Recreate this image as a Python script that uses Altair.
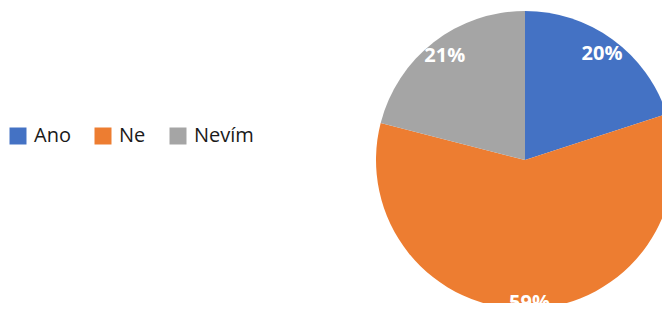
import altair as alt
import pandas as pd

categories = ["Ano", "Ne", "Nevím"]
values = [20, 59, 21]
labels = ["20%", "59%", "21%"]
colors = ["#4472C4", "#ED7D31", "#A5A5A5"]

df = pd.DataFrame({
    "kategorie": categories,
    "hodnota": values,
    "popisek": labels,
    "poradi": list(range(len(categories))),
})

cx, cy = 517, 152

base = alt.Chart(df).encode(
    theta=alt.Theta("hodnota:Q", stack=True),
    order=alt.Order("poradi:Q"),
    color=alt.Color(
        "kategorie:N",
        scale=alt.Scale(domain=categories, range=colors),
        sort=categories,
        legend=alt.Legend(
            title=None,
            orient="none",
            direction="horizontal",
            legendX=0,
            legendY=118,
            symbolType="square",
            symbolSize=289,
            symbolStrokeWidth=0,
            labelFont="Open Sans",
            labelFontSize=20,
            labelColor="#1a1a1a",
            labelOffset=6,
            columnPadding=22,
        ),
    ),
    x=alt.value(cx),
    y=alt.value(cy),
)

pie = base.mark_arc(outerRadius=149)

text = base.mark_text(
    font="Open Sans",
    fontSize=20,
    fontWeight="bold",
    baseline="middle",
    align="center",
    radius=131,
    radiusOffset={"expr": "datum.kategorie == 'Ne' ? 12 : 0"},
).encode(
    text="popisek:N",
    color=alt.value("white"),
)

chart = (pie + text).properties(
    width=654,
    height=295,
    autosize=alt.AutoSizeParams(type="none"),
    padding=0,
).configure_view(stroke=None)

chart.save("out.html", embed_options={"renderer": "svg", "actions": False})
